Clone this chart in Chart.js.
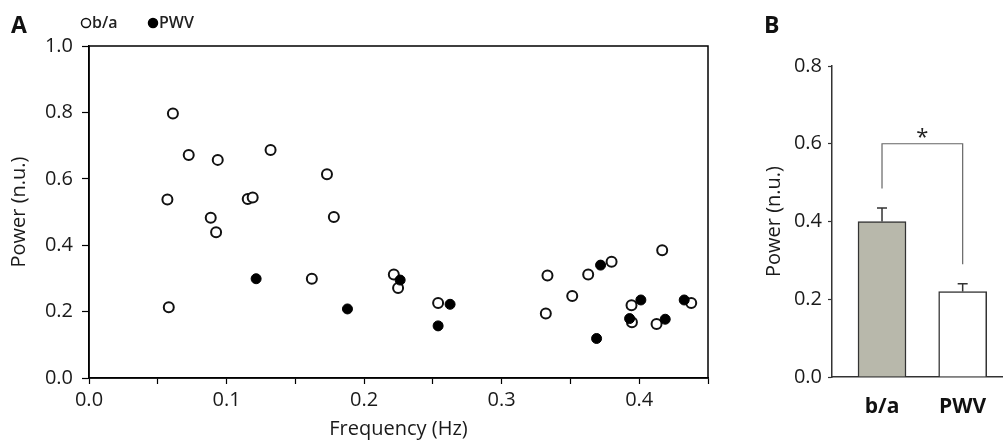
<!DOCTYPE html>
<html>
<head>
<meta charset="utf-8">
<script src="https://cdn.jsdelivr.net/npm/chart.js@4.4.1/dist/chart.umd.min.js"></script>
<style>
  html, body { margin: 0; padding: 0; background: #fff; }
  #wrap { position: relative; width: 1003px; height: 441px; overflow: hidden; }
  .panel { position: absolute; top: 0; height: 441px; }
  #scatterBox { left: 0; width: 760px; }
  #barBox { left: 760px; width: 243px; }
  .tag { position: absolute; font: bold 23px "Open Sans", sans-serif; color: #111; }
</style>
</head>
<body>
<div id="wrap">
  <div class="panel" id="scatterBox"><canvas id="scatter"></canvas></div>
  <div class="panel" id="barBox"><canvas id="bars"></canvas></div>
  <div class="tag" style="left:11px;top:8px;">A</div>
  <div class="tag" style="left:764px;top:8px;">B</div>
</div>
<script>
const FONT = "'Open Sans', sans-serif";

// peak frequency / normalised power for each subject
const freqBA = [0.057, 0.061, 0.0725, 0.0936, 0.132, 0.173, 0.1154, 0.119, 0.0885, 0.0924,
  0.178, 0.058, 0.162, 0.2216, 0.2247, 0.2538, 0.3333, 0.3321, 0.3513, 0.3629,
  0.3799, 0.3944, 0.3947, 0.4126, 0.4167, 0.4378];
const powerBA = [0.538, 0.797, 0.672, 0.657, 0.687, 0.614, 0.539, 0.544, 0.483, 0.439,
  0.485, 0.213, 0.299, 0.312, 0.271, 0.226, 0.309, 0.194, 0.247, 0.312,
  0.350, 0.219, 0.168, 0.163, 0.385, 0.226];
const freqPWV = [0.1215, 0.1879, 0.2262, 0.2625, 0.2538, 0.3719, 0.369, 0.4012, 0.393, 0.4189, 0.4327];
const powerPWV = [0.299, 0.208, 0.295, 0.222, 0.157, 0.340, 0.119, 0.235, 0.179, 0.177, 0.235];

// group means with SEM
const groups = ["b/a", "PWV"];
const groupMean = [0.40, 0.22];
const groupSem = [0.035, 0.02];
const groupFill = ["#b8b8ab", "#ffffff"];

const toPoints = (xs, ys) => xs.map((x, i) => ({ x, y: ys[i] }));

// closes the plot frame on top and right
const frameBox = {
  id: "frameBox",
  afterDraw(chart) {
    const { ctx, chartArea: a } = chart;
    ctx.save();
    ctx.strokeStyle = "#000";
    ctx.lineWidth = 1.5;
    ctx.strokeRect(a.left, a.top, a.right - a.left, a.bottom - a.top);
    ctx.restore();
  }
};

// small inline legend above the plot
const markerLegend = {
  id: "markerLegend",
  afterDraw(chart) {
    const ctx = chart.ctx;
    let x = 86;
    const y = 23;
    ctx.save();
    ctx.font = "600 16px " + FONT;
    ctx.textBaseline = "middle";
    chart.data.datasets.forEach(ds => {
      ctx.beginPath();
      ctx.arc(x, y, 4.5, 0, Math.PI * 2);
      ctx.fillStyle = ds.backgroundColor;
      ctx.fill();
      ctx.lineWidth = 1.5;
      ctx.strokeStyle = ds.borderColor;
      ctx.stroke();
      ctx.fillStyle = "#222";
      ctx.fillText(ds.label, x + 6, y);
      x += 67;
    });
    ctx.restore();
  }
};

new Chart(document.getElementById("scatter"), {
  type: "scatter",
  data: {
    datasets: [
      {
        label: "b/a",
        data: toPoints(freqBA, powerBA),
        pointRadius: 5,
        pointBorderWidth: 2,
        borderColor: "#111",
        backgroundColor: "#fff",
        order: 1
      },
      {
        label: "PWV",
        data: toPoints(freqPWV, powerPWV),
        pointRadius: 5,
        pointBorderWidth: 1,
        borderColor: "#000",
        backgroundColor: "#000",
        order: 0
      }
    ]
  },
  options: {
    responsive: true,
    maintainAspectRatio: false,
    animation: false,
    layout: { padding: { top: 46, right: 52, left: 0, bottom: 0 } },
    plugins: { legend: { display: false }, tooltip: { enabled: false } },
    scales: {
      x: {
        type: "linear",
        min: 0,
        max: 0.45,
        afterFit: s => { s.height = 63; },
        ticks: {
          stepSize: 0.05,
          autoSkip: false,
          maxRotation: 0,
          padding: 4,
          color: "#1a1a1a",
          font: { family: FONT, size: 20 },
          callback: v => (Math.round(v * 100) % 10 === 0 ? v.toFixed(1) : "")
        },
        grid: { drawOnChartArea: false, tickLength: 6, color: "#000", tickWidth: 1.2 },
        border: { color: "#000", width: 1.5 },
        title: {
          display: true,
          text: "Frequency (Hz)",
          color: "#1a1a1a",
          font: { family: FONT, size: 20 },
          padding: { top: 0, bottom: 0 }
        }
      },
      y: {
        min: 0,
        max: 1,
        afterFit: s => { s.width = 89; },
        ticks: {
          stepSize: 0.2,
          padding: 9,
          color: "#1a1a1a",
          font: { family: FONT, size: 20 },
          callback: v => v.toFixed(1)
        },
        grid: { drawOnChartArea: false, tickLength: 7, color: "#000", tickWidth: 1.2 },
        border: { color: "#000", width: 1.5 },
        title: {
          display: true,
          text: "Power (n.u.)",
          color: "#1a1a1a",
          font: { family: FONT, size: 20 },
          padding: { top: 7, bottom: 0 }
        }
      }
    }
  },
  plugins: [frameBox, markerLegend]
});

// SEM whiskers plus the significance bracket between the two groups
const whiskers = {
  id: "whiskers",
  afterDatasetsDraw(chart) {
    const { ctx, scales: { y } } = chart;
    const bars = chart.getDatasetMeta(0).data;
    ctx.save();
    ctx.strokeStyle = "#333";
    ctx.lineWidth = 1.5;
    bars.forEach((bar, i) => {
      const top = y.getPixelForValue(groupMean[i] + groupSem[i]);
      ctx.beginPath();
      ctx.moveTo(bar.x, bar.y);
      ctx.lineTo(bar.x, top);
      ctx.moveTo(bar.x - 5, top);
      ctx.lineTo(bar.x + 5, top);
      ctx.stroke();
    });
    const legL = y.getPixelForValue(groupMean[0] + groupSem[0] + 0.05);
    const legR = y.getPixelForValue(groupMean[1] + groupSem[1] + 0.05);
    const top = y.getPixelForValue(0.6);
    ctx.strokeStyle = "#666";
    ctx.lineWidth = 1.2;
    ctx.beginPath();
    ctx.moveTo(bars[0].x, legL);
    ctx.lineTo(bars[0].x, top);
    ctx.lineTo(bars[1].x, top);
    ctx.lineTo(bars[1].x, legR);
    ctx.stroke();
    ctx.fillStyle = "#222";
    ctx.font = "22px " + FONT;
    ctx.textAlign = "center";
    ctx.textBaseline = "middle";
    ctx.fillText("*", (bars[0].x + bars[1].x) / 2, y.getPixelForValue(0.615));
    ctx.restore();
  }
};

new Chart(document.getElementById("bars"), {
  type: "bar",
  data: {
    datasets: [{
      data: groupMean.map((m, i) => ({ x: i + 1, y: m })),
      backgroundColor: groupFill,
      borderColor: "#333",
      borderWidth: 1.5,
      barThickness: 48
    }]
  },
  options: {
    responsive: true,
    maintainAspectRatio: false,
    animation: false,
    layout: { padding: { top: 66, right: 0, left: 0, bottom: 0 } },
    plugins: { legend: { display: false }, tooltip: { enabled: false } },
    scales: {
      x: {
        type: "linear",
        offset: false,
        min: 0.38,
        max: 2.5,
        afterFit: s => { s.height = 64; },
        afterBuildTicks: s => { s.ticks = groups.map((g, i) => ({ value: i + 1 })); },
        ticks: {
          padding: 9,
          color: "#111",
          font: { family: FONT, size: 21, weight: "bold" },
          callback: v => groups[Math.round(v) - 1]
        },
        grid: { display: false },
        border: { color: "#333", width: 1.5 }
      },
      y: {
        min: 0,
        max: 0.8,
        afterFit: s => { s.width = 72; },
        ticks: {
          stepSize: 0.2,
          padding: 6,
          color: "#1a1a1a",
          font: { family: FONT, size: 20 },
          callback: v => v.toFixed(1)
        },
        grid: { drawOnChartArea: false, tickLength: 4, color: "#333", tickWidth: 1.2 },
        border: { color: "#333", width: 1.5 },
        title: {
          display: true,
          text: "Power (n.u.)",
          color: "#1a1a1a",
          font: { family: FONT, size: 20 },
          padding: { top: 2, bottom: 0 }
        }
      }
    }
  },
  plugins: [whiskers]
});
</script>
</body>
</html>
